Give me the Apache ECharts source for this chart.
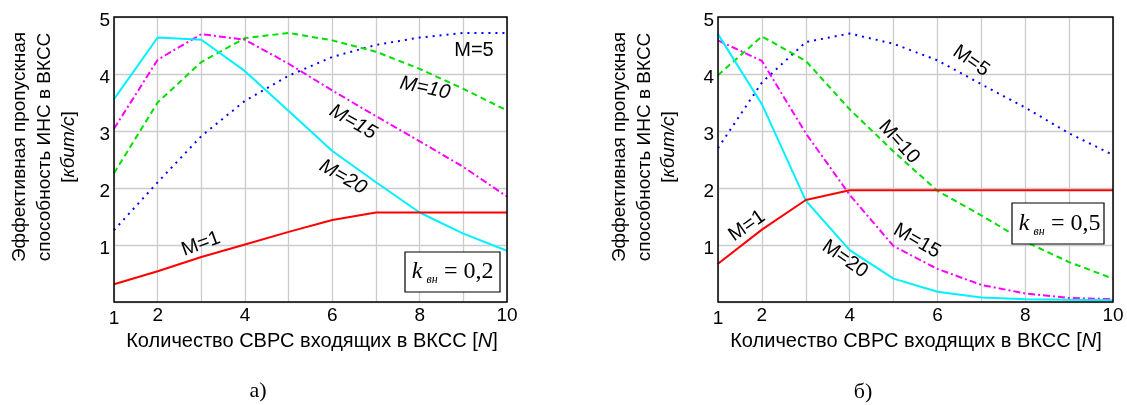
<!DOCTYPE html>
<html>
<head>
<meta charset="utf-8">
<script src="https://cdn.jsdelivr.net/npm/echarts@6/dist/echarts.min.js"></script>
<style>
html,body{margin:0;padding:0;background:#fff;}
#c{width:1127px;height:405px;}
</style>
</head>
<body>
<div id="c"></div>
<script>
// ---- data ----
const N = [1, 2, 3, 4, 5, 6, 7, 8, 9, 10];
const xTickLabels = [1, 2, 4, 6, 8, 10];
const yTickLabels = [1, 2, 3, 4, 5];
// chart a) k_вн = 0,2
const a_M1  = [0.31, 0.54, 0.79, 1.01, 1.23, 1.44, 1.57, 1.57, 1.57, 1.57];
const a_M5  = [1.26, 2.10, 2.91, 3.53, 3.97, 4.30, 4.51, 4.64, 4.72, 4.72];
const a_M10 = [2.26, 3.50, 4.21, 4.63, 4.72, 4.59, 4.39, 4.09, 3.74, 3.36];
const a_M15 = [3.04, 4.25, 4.70, 4.60, 4.18, 3.71, 3.26, 2.82, 2.37, 1.85];
const a_M20 = [3.56, 4.64, 4.60, 4.05, 3.35, 2.65, 2.10, 1.57, 1.20, 0.90];
// chart б) k_вн = 0,5
const b_M1  = [0.67, 1.27, 1.79, 1.96, 1.96, 1.96, 1.96, 1.96, 1.96, 1.96];
const b_M5  = [2.70, 3.85, 4.56, 4.71, 4.53, 4.24, 3.82, 3.41, 2.96, 2.58];
const b_M10 = [3.98, 4.66, 4.23, 3.38, 2.64, 1.95, 1.52, 1.06, 0.70, 0.41];
const b_M15 = [4.59, 4.23, 2.96, 1.88, 0.98, 0.58, 0.30, 0.15, 0.07, 0.05];
const b_M20 = [4.70, 3.47, 1.78, 0.91, 0.41, 0.18, 0.08, 0.05, 0.04, 0.03];

const yTitle = ['Эффективная пропускная', 'способность ИНС в ВКСС', '[{i|кбит/с}]'];
const xTitle = 'Количество СВРС входящих в ВКСС [{i|N}]';

// ---- layout / style ----
const SANS = '"Liberation Sans", Arial, sans-serif';
const SERIF = '"Liberation Serif", "Times New Roman", serif';
const grids = [
  {left: 114, top: 17, width: 393, height: 285},
  {left: 718, top: 17, width: 395, height: 285}
];
const styles = {
  M1:  {color: '#ff0000', type: 'solid'},
  M5:  {color: '#0000ff', type: [2, 5]},
  M10: {color: '#00e000', type: [6, 4]},
  M15: {color: '#ff00ff', type: [7, 3, 2, 3]},
  M20: {color: '#00f0ff', type: 'solid'}
};

function mkSeries(arr, key, gi) {
  return {
    type: 'line', xAxisIndex: gi, yAxisIndex: gi,
    data: N.map((n, i) => [n, arr[i]]),
    showSymbol: false, symbol: 'none', animation: false,
    lineStyle: {color: styles[key].color, type: styles[key].type, width: 2},
    itemStyle: {color: styles[key].color}
  };
}

function xAxis(gi) {
  return {
    type: 'value', gridIndex: gi, min: 1, max: 10, interval: 1,
    axisLine: {show: false}, axisTick: {show: false},
    splitLine: {show: true, lineStyle: {color: '#cccccc', width: 1.3}},
    axisLabel: {
      margin: 4, color: '#000', fontSize: 19, fontFamily: SANS,
      formatter: v => v === 1 ? '{lo|1}' : (xTickLabels.includes(v) ? String(v) : ''),
      rich: {lo: {padding: [3, 0, 0, 0], fontSize: 19, fontFamily: SANS, color: '#000'}}
    }
  };
}
function yAxis(gi) {
  return {
    type: 'value', gridIndex: gi, min: 0, max: 5, interval: 1,
    axisLine: {show: false}, axisTick: {show: false},
    splitLine: {show: true, lineStyle: {color: '#cccccc', width: 1.3}},
    axisLabel: {
      margin: 4, color: '#000', fontSize: 19, fontFamily: SANS,
      formatter: v => yTickLabels.includes(v) ? '{d|' + v + '}' : '',
      rich: {d: {padding: [7, 0, 0, 0], fontSize: 19, fontFamily: SANS, color: '#000'}}
    }
  };
}

function txt(x, y, text, o) {
  o = o || {};
  const size = o.size || 18;
  return {
    type: 'text', x: x, y: y, rotation: (o.rot || 0) * Math.PI / 180, z: 100,
    style: {
      text: text, x: 0, y: 0,
      fontSize: size, fontFamily: o.family || SANS,
      fontStyle: o.italic ? 'italic' : 'normal',
      fill: '#000',
      textAlign: o.align || 'center', textVerticalAlign: 'middle',
      align: o.align || 'center', verticalAlign: 'middle',
      rich: o.rich ? {i: {fontStyle: 'italic', fontSize: size, fontFamily: SANS, fill: '#000'}} : undefined
    }
  };
}

const graphics = [];
// frames
grids.forEach(g => graphics.push({
  type: 'rect', z: 90,
  shape: {x: g.left, y: g.top, width: g.width, height: g.height},
  style: {fill: 'none', stroke: '#000', lineWidth: 1.5}
}));
// axis titles
[0, 600].forEach(dx => {
  graphics.push(txt(20 + dx, 147, yTitle[0], {rot: 90, size: 19}));
  graphics.push(txt(45 + dx, 147, yTitle[1], {rot: 90, size: 19}));
  graphics.push(txt(69 + dx, 147, yTitle[2], {rot: 90, size: 19, rich: true}));
});
graphics.push(txt(312, 341, xTitle, {size: 20, rich: true}));
graphics.push(txt(916, 341, xTitle, {size: 20, rich: true}));
graphics.push(txt(258, 391, 'а)', {family: SERIF, size: 22}));
graphics.push(txt(863, 392, 'б)', {family: SERIF, size: 22}));
// curve labels, chart a)
graphics.push(txt(474, 50, 'M=5', {size: 20}));
graphics.push(txt(425, 88, 'M=10', {rot: -12, italic: true, size: 20}));
graphics.push(txt(353, 122, 'M=15', {rot: -30, italic: true, size: 20}));
graphics.push(txt(343, 177, 'M=20', {rot: -30, italic: true, size: 20}));
graphics.push(txt(201, 244, 'M=1', {rot: 20, size: 20}));
// curve labels, chart б)
graphics.push(txt(971, 61, 'M=5', {rot: -35, size: 20}));
graphics.push(txt(899, 142, 'M=10', {rot: -48, size: 20}));
graphics.push(txt(747, 226, 'M=1', {rot: 35, size: 20}));
graphics.push(txt(917, 241, 'M=15', {rot: -30, size: 20}));
graphics.push(txt(845, 259, 'M=20', {rot: -35, size: 20}));
// k boxes
function kBox(x, y, w, h, val) {
  graphics.push({type: 'rect', z: 95, shape: {x: x, y: y, width: w, height: h},
    style: {fill: '#fff', stroke: '#000', lineWidth: 1.2}});
  const cy = y + h / 2;
  graphics.push(txt(x + 12, cy, 'k', {family: SERIF, size: 24, italic: true}));
  graphics.push(txt(x + 27, cy + 8, 'вн', {family: SERIF, size: 12, italic: true}));
  graphics.push(txt(x + 39, cy, '= ' + val, {family: SERIF, size: 24, align: 'left'}));
}
kBox(405, 252, 95, 40, '0,2');
kBox(1012, 203, 92, 41, '0,5');

const option = {
  animation: false,
  backgroundColor: '#fff',
  grid: grids.map(g => Object.assign({containLabel: false}, g)),
  xAxis: [xAxis(0), xAxis(1)],
  yAxis: [yAxis(0), yAxis(1)],
  series: [
    mkSeries(a_M5, 'M5', 0), mkSeries(a_M10, 'M10', 0), mkSeries(a_M15, 'M15', 0),
    mkSeries(a_M20, 'M20', 0), mkSeries(a_M1, 'M1', 0),
    mkSeries(b_M5, 'M5', 1), mkSeries(b_M10, 'M10', 1), mkSeries(b_M15, 'M15', 1),
    mkSeries(b_M20, 'M20', 1), mkSeries(b_M1, 'M1', 1)
  ],
  graphic: graphics
};
const chart = echarts.init(document.getElementById('c'), null, {renderer: 'canvas'});
chart.setOption(option);
</script>
</body>
</html>
